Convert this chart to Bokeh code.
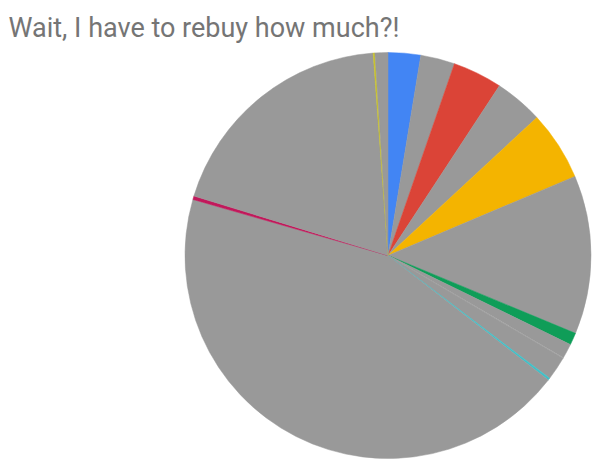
import numpy as np
from bokeh.plotting import figure
from bokeh.models import ColumnDataSource, Label, Range1d
from bokeh.embed import file_html
from bokeh.resources import INLINE

title_text = "Wait, I have to rebuy how much?!"

slice_names = ["A", "B", "C", "D", "E", "F", "G", "H", "I", "J", "K", "L", "M", "N", "O", "P"]
slice_values = [2.59, 2.72, 3.94, 3.86, 5.53, 12.64, 0.97, 1.17, 0.05, 1.89, 0.17, 43.97, 0.28, 19.11, 0.14, 1.03]
slice_colors = ["#4285F4", "#999999", "#DB4437", "#999999", "#F4B400", "#999999", "#0F9D58",
                "#999999", "#AAAAAA", "#999999", "#3FC1C9", "#999999", "#C2185B", "#999999",
                "#C9C32B", "#999999"]

W, H = 600, 465
CX, CY, R = 387.5, 210.0, 203.0

vals = np.array(slice_values, dtype=float)
frac = vals / vals.sum()
cum = np.concatenate([[0.0], np.cumsum(frac)])
start = np.pi / 2 - cum[:-1] * 2 * np.pi
end = np.pi / 2 - cum[1:] * 2 * np.pi

src = ColumnDataSource(dict(name=slice_names, start=start, end=end, color=slice_colors,
                            x=[CX] * len(vals), y=[CY] * len(vals)))

p = figure(width=W, height=H, output_backend="svg", toolbar_location=None,
           x_range=Range1d(0, W), y_range=Range1d(0, H), min_border=0)
p.axis.visible = False
p.grid.visible = False
p.outline_line_color = None
p.background_fill_color = "white"

p.wedge(x="x", y="y", radius=R, start_angle="start", end_angle="end", direction="clock",
        fill_color="color", line_color="color", line_width=0.5, source=src)

p.add_layout(Label(x=8, y=H - 27, x_units="screen", y_units="screen", text=title_text,
                   text_font="Roboto", text_font_size="27px", text_color="#757575",
                   text_baseline="alphabetic"))

open("out.html", "w").write(file_html(p, INLINE))
